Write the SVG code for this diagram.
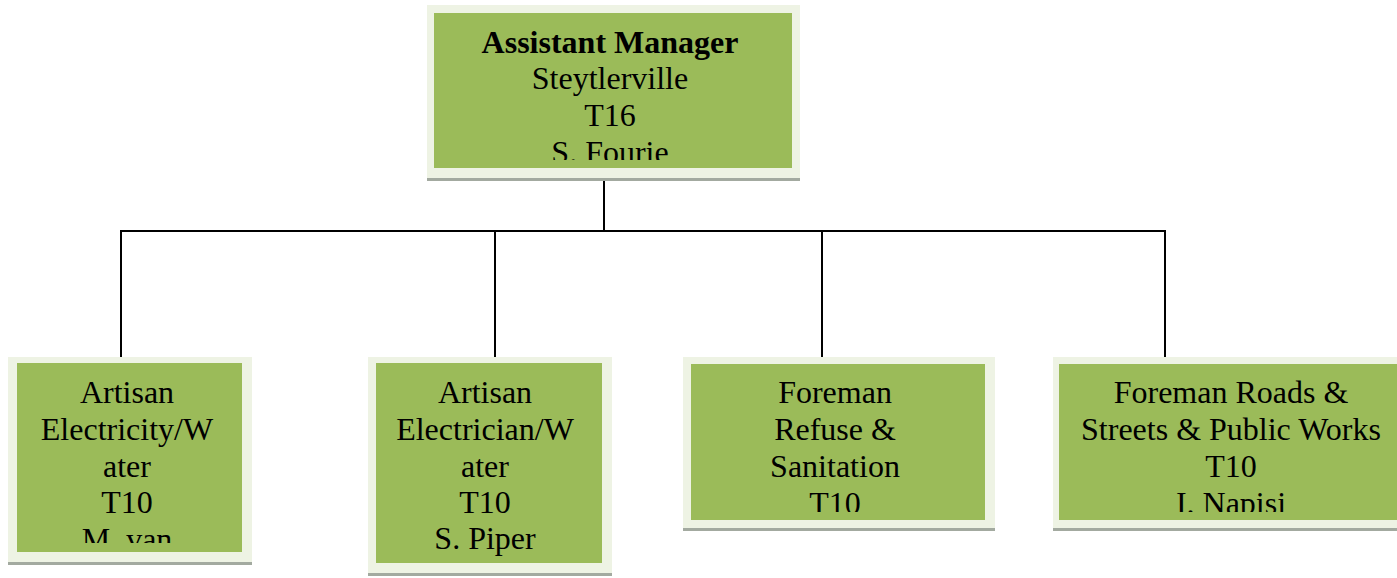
<svg xmlns="http://www.w3.org/2000/svg" width="1397" height="578" viewBox="0 0 1397 578">
<style>
.frame{fill:#eef3e4;}
.shadow{fill:#a3aaa0;}
.box{fill:#9bbb59;}
.t{font-family:"Liberation Serif","Times New Roman",serif;font-size:32px;fill:#000;text-anchor:middle;}
.b{font-weight:bold;}
.conn{stroke:#000;stroke-width:2;fill:none;}
</style>
<defs>
<clipPath id="c0"><rect x="434" y="13" width="358" height="147"/></clipPath>
<clipPath id="c1"><rect x="17" y="363" width="225" height="180"/></clipPath>
<clipPath id="c2"><rect x="376" y="363" width="226" height="200"/></clipPath>
<clipPath id="c3"><rect x="691" y="364" width="294" height="148"/></clipPath>
<clipPath id="c4"><rect x="1059" y="364" width="350" height="148"/></clipPath>
</defs>
<rect width="1397" height="578" fill="#fff"/>
<g id="connectors">
<path class="conn" d="M604 178 V231 M121 231 H1165 M121 230 V360 M495 230 V360 M822 230 V360 M1165 230 V360"/>
</g>
<g id="n0">
<rect class="frame" x="427" y="5" width="373" height="174"/>
<rect class="shadow" x="427" y="178" width="373" height="3"/>
<rect class="box" x="434" y="13" width="358" height="155"/>
<g clip-path="url(#c0)">
<text class="t b" x="610" y="53">Assistant Manager</text>
<text class="t" x="610" y="89">Steytlerville</text>
<text class="t" x="610" y="126">T16</text>
<text class="t" x="610" y="163">S. Fourie</text>
</g>
</g>
<g id="n1">
<rect class="frame" x="8" y="357" width="244" height="206"/>
<rect class="shadow" x="8" y="562" width="244" height="3"/>
<rect class="box" x="17" y="363" width="225" height="189"/>
<g clip-path="url(#c1)">
<text class="t" x="127" y="403">Artisan</text>
<text class="t" x="127" y="440">Electricity/W</text>
<text class="t" x="127" y="477">ater</text>
<text class="t" x="127" y="513">T10</text>
<text class="t" x="127" y="550">M. van</text>
</g>
</g>
<g id="n2">
<rect class="frame" x="368" y="357" width="244" height="217"/>
<rect class="shadow" x="368" y="573" width="244" height="3"/>
<rect class="box" x="376" y="363" width="226" height="200"/>
<g clip-path="url(#c2)">
<text class="t" x="485" y="403">Artisan</text>
<text class="t" x="485" y="440">Electrician/W</text>
<text class="t" x="485" y="477">ater</text>
<text class="t" x="485" y="513">T10</text>
<text class="t" x="485" y="549">S. Piper</text>
</g>
</g>
<g id="n3">
<rect class="frame" x="683" y="357" width="312" height="172"/>
<rect class="shadow" x="683" y="528" width="312" height="3"/>
<rect class="box" x="691" y="364" width="294" height="156"/>
<g clip-path="url(#c3)">
<text class="t" x="835" y="403">Foreman</text>
<text class="t" x="835" y="440">Refuse &amp;</text>
<text class="t" x="835" y="477">Sanitation</text>
<text class="t" x="835" y="514">T10</text>
</g>
</g>
<g id="n4">
<rect class="frame" x="1053" y="357" width="360" height="172"/>
<rect class="shadow" x="1053" y="528" width="360" height="3"/>
<rect class="box" x="1059" y="364" width="350" height="156"/>
<g clip-path="url(#c4)">
<text class="t" x="1231" y="403">Foreman Roads &amp;</text>
<text class="t" x="1231" y="440">Streets &amp; Public Works</text>
<text class="t" x="1231" y="477">T10</text>
<text class="t" x="1231" y="514">I. Napisi</text>
</g>
</g>
</svg>
